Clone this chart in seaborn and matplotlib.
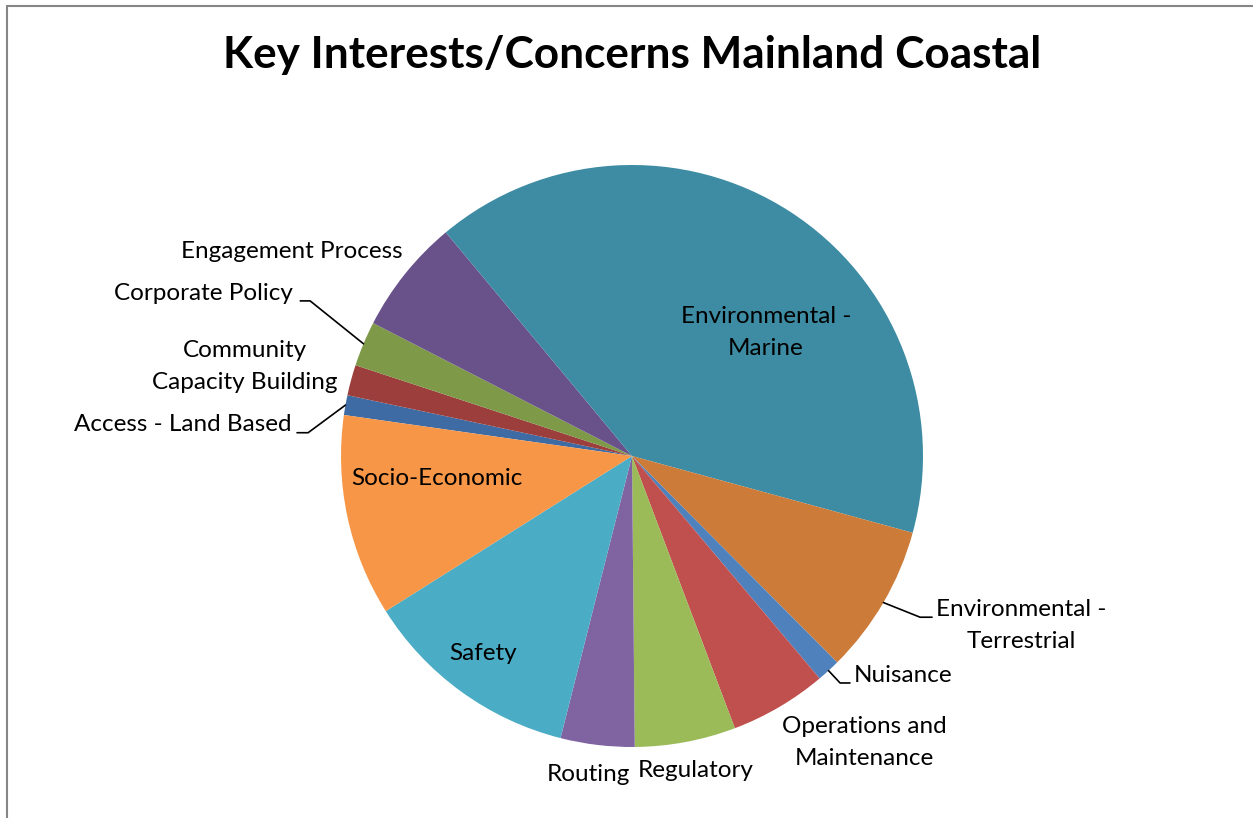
import seaborn as sns
import matplotlib.pyplot as plt
import numpy as np
from matplotlib.lines import Line2D

# Share of mentions per topic (percent)
categories = ["Access - Land Based", "Community Capacity Building", "Corporate Policy",
              "Engagement Process", "Environmental - Marine", "Environmental - Terrestrial",
              "Nuisance", "Operations and Maintenance", "Regulatory", "Routing",
              "Safety", "Socio-Economic"]
shares = [1.1, 1.7, 2.5, 6.4, 40.3, 8.3, 1.3, 5.4, 5.6, 4.1, 12.1, 11.2]
label_text = ["Access - Land Based", "Community\nCapacity Building", "Corporate Policy",
              "Engagement Process", "Environmental -\nMarine", "Environmental -\nTerrestrial",
              "Nuisance", "Operations and\nMaintenance", "Regulatory", "Routing",
              "Safety", "Socio-Economic"]
colors = ["#3E6BA3", "#9C3E3B", "#7E9A48", "#69518A", "#3D8CA3", "#CC7B38",
          "#4F81BD", "#C0504D", "#9BBB59", "#8064A2", "#4BACC6", "#F79646"]

# label centres (in pie-radius units)
label_pos = {
    "Access - Land Based": (-1.543, 0.107),
    "Community Capacity Building": (-1.330, 0.309),
    "Corporate Policy": (-1.474, 0.560),
    "Engagement Process": (-1.168, 0.704),
    "Environmental - Marine": (0.46, 0.426),
    "Environmental - Terrestrial": (1.337, -0.581),
    "Nuisance": (0.931, -0.753),
    "Operations and Maintenance": (0.80, -0.986),
    "Regulatory": (0.22, -1.082),
    "Routing": (-0.151, -1.093),
    "Safety": (-0.512, -0.677),
    "Socio-Economic": (-0.67, -0.079),
}
leaders = {
    # name: (elbow offset from label, end offset from label) in radius units
    "Environmental - Terrestrial": ((-0.347, 0.027), (-0.306, 0.027)),
    "Nuisance": ((-0.216, -0.027), (-0.182, -0.027)),
    "Access - Land Based": ((0.430, -0.027), (0.392, -0.027)),
    "Corporate Policy": ((0.368, -0.027), (0.334, -0.027)),
}

sns.set_theme(style="white")
plt.rcParams['font.family'] = ['Lato', 'DejaVu Sans']

fig = plt.figure(figsize=(12.53, 8.18), dpi=100)
ax = fig.add_axes([0, 0, 1, 1])
palette = sns.color_palette(colors)

wedges, _ = ax.pie(shares, colors=palette, startangle=171.9, counterclock=False,
                   radius=1, wedgeprops=dict(linewidth=0))
ax.set_aspect('auto')
ax.set_xlim(-632 / 291, (1253 - 632) / 291)
ax.set_ylim((456 - 818) / 291, 456 / 291)
ax.axis('off')

for name, txt, w in zip(categories, label_text, wedges):
    x, y = label_pos[name]
    ax.text(x, y, txt, ha='center', va='center', fontsize=17.5,
            color='black', linespacing=1.65)
    if name in leaders:
        mid = np.deg2rad((w.theta1 + w.theta2) / 2)
        ex, ey = np.cos(mid), np.sin(mid)
        (bx, by), (cx, cy) = leaders[name]
        ax.plot([ex, x + bx, x + cx], [ey, y + by, y + cy], color='black', lw=1.2)

fig.text(632 / 1253, 1 - 55 / 818, "Key Interests/Concerns Mainland Coastal",
         ha='center', va='center', fontsize=31.8, fontweight='bold', color='black')

# chart area border (top and left edges visible)
fig.add_artist(Line2D([7 / 1253, 7 / 1253], [0, 1 - 6 / 818], transform=fig.transFigure,
                      color='#868686', lw=1.5))
fig.add_artist(Line2D([7 / 1253, 1], [1 - 6 / 818, 1 - 6 / 818], transform=fig.transFigure,
                      color='#868686', lw=1.5))

plt.savefig("out.png", dpi=100)
